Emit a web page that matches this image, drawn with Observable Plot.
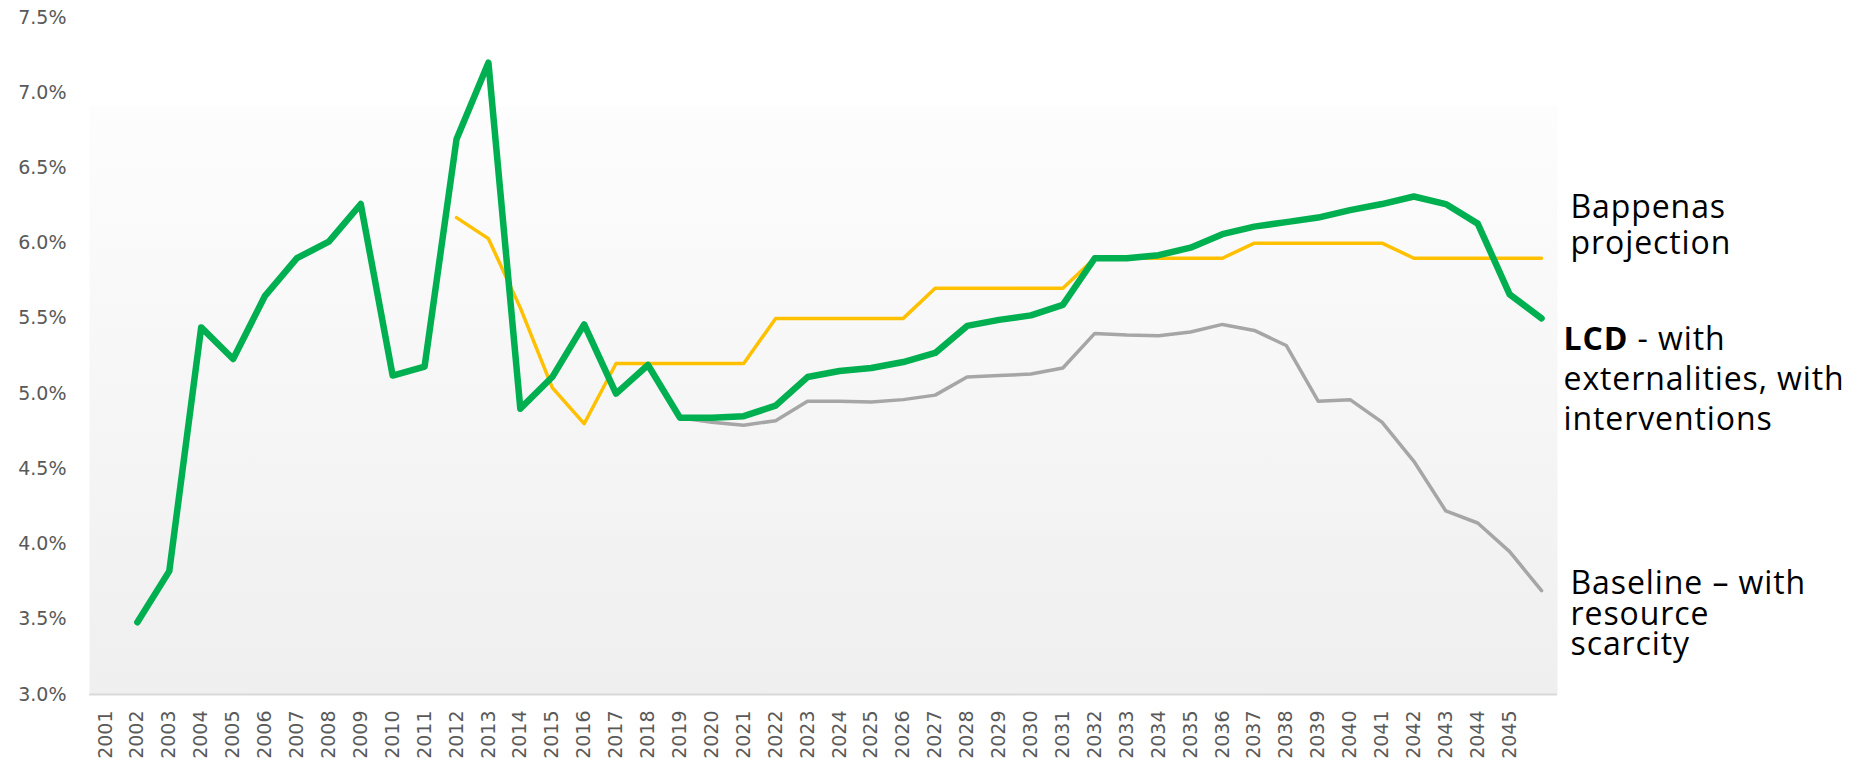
<!DOCTYPE html>
<html><head><meta charset="utf-8">
<script src="https://cdn.jsdelivr.net/npm/d3@7"></script>
<script src="https://cdn.jsdelivr.net/npm/@observablehq/plot@0.6"></script>
<style>body{margin:0;background:#fff;overflow:hidden;}</style>
</head><body><div id="chart"></div>
<script>
const years = ["2001","2002","2003","2004","2005","2006","2007","2008","2009","2010",
  "2011","2012","2013","2014","2015","2016","2017","2018","2019","2020",
  "2021","2022","2023","2024","2025","2026","2027","2028","2029","2030",
  "2031","2032","2033","2034","2035","2036","2037","2038","2039","2040",
  "2041","2042","2043","2044","2045","2046"];
const xTickLabels = years.slice(0, 45); // 2001–2045 are labelled; 2046 is not
const yTicks = [3.0, 3.5, 4.0, 4.5, 5.0, 5.5, 6.0, 6.5, 7.0, 7.5];

// LCD - with externalities, with interventions (%)
const lcd = [null, 3.48, 3.82, 5.44, 5.23, 5.65, 5.90, 6.01, 6.26, 5.12,
  5.18, 6.69, 7.20, 4.90, 5.11, 5.46, 5.00, 5.19, 4.84, 4.84,
  4.85, 4.92, 5.11, 5.15, 5.17, 5.21, 5.27, 5.45, 5.49, 5.52,
  5.59, 5.90, 5.90, 5.92, 5.97, 6.06, 6.11, 6.14, 6.17, 6.22,
  6.26, 6.31, 6.26, 6.13, 5.66, 5.50];
// Bappenas projection (%)
const bappenas = [null, null, null, null, null, null, null, null, null, null,
  null, 6.17, 6.03, 5.57, 5.04, 4.80, 5.20, 5.20, 5.20, 5.20,
  5.20, 5.50, 5.50, 5.50, 5.50, 5.50, 5.70, 5.70, 5.70, 5.70,
  5.70, 5.90, 5.90, 5.90, 5.90, 5.90, 6.00, 6.00, 6.00, 6.00,
  6.00, 5.90, 5.90, 5.90, 5.90, 5.90];
// Baseline – with resource scarcity (%)
const baseline = [null, null, null, null, null, null, null, null, null, null,
  null, null, null, null, null, null, null, null, 4.84, 4.81,
  4.79, 4.82, 4.95, 4.95, 4.945, 4.96, 4.99, 5.11, 5.12, 5.13,
  5.17, 5.40, 5.39, 5.385, 5.41, 5.46, 5.42, 5.32, 4.95, 4.96,
  4.81, 4.55, 4.22, 4.14, 3.95, 3.69];

const labelBappenas = "Bappenas\nprojection";
const labelLcd = "LCD - with\nexternalities, with\ninterventions";
const labelBaseline = "Baseline – with\nresource\nscarcity";

const colors = {lcd: "#00b050", bappenas: "#ffc000", baseline: "#a6a6a6"};

function rows(arr) {
  return years.map((year, i) => ({year, v: arr[i]})).filter(d => d.v != null);
}
function lastRow(arr) { const r = rows(arr); return [r[r.length - 1]]; }

const labelStyle = {fontFamily: "'Open Sans', sans-serif", fontSize: 32, fill: "#000", textAnchor: "start"};

const svg = Plot.plot({
  width: 1869, height: 762,
  marginLeft: 89, marginRight: 312, marginTop: 17, marginBottom: 68,
  style: {fontFamily: "'DejaVu Sans', sans-serif", fontSize: "19px", color: "#595959", background: "white", overflow: "visible"},
  x: {type: "point", domain: years, padding: 0.5, label: null},
  y: {domain: [3, 7.5], label: null},
  marks: [
    Plot.frame({fill: "url(#bggrad)", stroke: "none"}),
    Plot.ruleY([3], {stroke: "#d9d9d9", strokeWidth: 2}),
    Plot.axisY({ticks: yTicks, tickSize: 0, tickPadding: 23, tickFormat: d => d.toFixed(1) + "%", label: null}),
    Plot.axisX({ticks: xTickLabels, tickSize: 0, tickPadding: 16, tickRotate: -90, label: null}),
    Plot.line(rows(baseline), {x: "year", y: "v", stroke: colors.baseline, strokeWidth: 3.5}),
    Plot.line(rows(bappenas), {x: "year", y: "v", stroke: colors.bappenas, strokeWidth: 3.5}),
    Plot.line(rows(lcd), {x: "year", y: "v", stroke: colors.lcd, strokeWidth: 6.5}),
    Plot.text(lastRow(bappenas), {x: "year", y: "v", text: () => labelBappenas, dx: 29, dy: -34, lineHeight: 1.144, ...labelStyle}),
    Plot.text(lastRow(lcd), {x: "year", y: "v", text: () => labelLcd, dx: 22, dy: 59, lineHeight: 1.24, ...labelStyle}),
    Plot.text(lastRow(baseline), {x: "year", y: "v", text: () => labelBaseline, dx: 29, dy: 24, lineHeight: 0.96, ...labelStyle})
  ]
});

// gradient background for plot area (white above ~y=105px, then light grey gradient)
const defs = d3.select(svg).insert("defs", ":first-child");
const grad = defs.append("linearGradient").attr("id", "bggrad")
  .attr("x1", 0).attr("y1", 0).attr("x2", 0).attr("y2", 1);
grad.append("stop").attr("offset", "0%").attr("stop-color", "#ffffff");
grad.append("stop").attr("offset", "13%").attr("stop-color", "#ffffff");
grad.append("stop").attr("offset", "13%").attr("stop-color", "#fdfdfd");
grad.append("stop").attr("offset", "100%").attr("stop-color", "#efefef");

// letter spacing and bold "LCD" on the series labels
d3.select(svg).selectAll("text").filter(function() {
  return /Bappenas|LCD|Baseline/.test(this.textContent);
}).attr("letter-spacing", "0.9px");
d3.select(svg).selectAll("tspan").each(function() {
  if (this.textContent === "LCD - with") {
    const t = d3.select(this);
    t.text(null);
    t.append("tspan").attr("font-weight", "bold").text("LCD");
    t.append("tspan").text(" - with");
  }
});

document.getElementById("chart").appendChild(svg);
</script>
</body></html>
